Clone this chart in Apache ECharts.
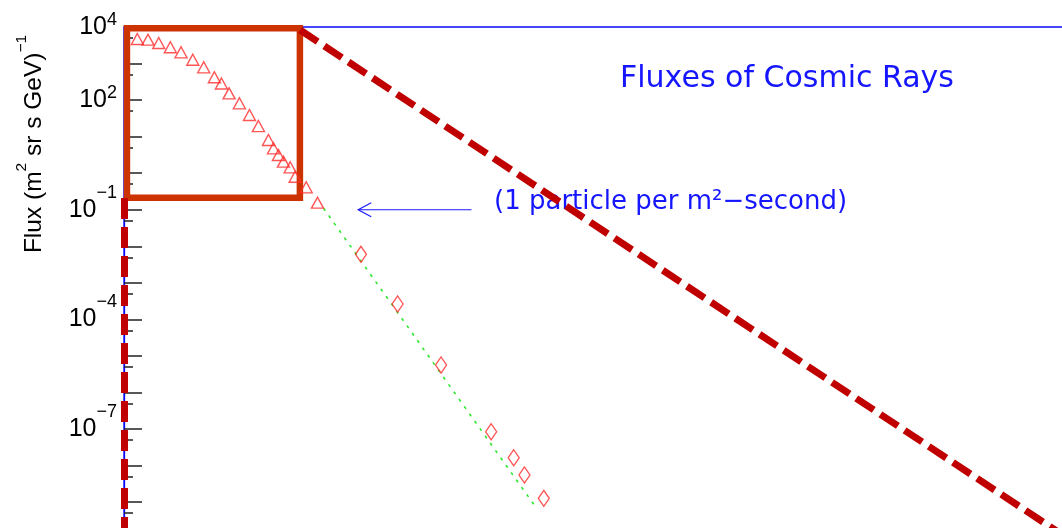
<!DOCTYPE html>
<html>
<head>
<meta charset="utf-8">
<title>Fluxes of Cosmic Rays</title>
<script src="https://cdn.jsdelivr.net/npm/echarts@6/dist/echarts.min.js"></script>
<style>
  html, body { margin: 0; padding: 0; background: #fff; }
  #chart { width: 1062px; height: 528px; }
</style>
</head>
<body>
<div id="chart"></div>
<script>
// energy in eV, flux in (m^2 sr s GeV)^-1
var protonEnergy = [2.19e9, 4.11e9, 7.73e9, 1.53e10, 2.87e10, 5.73e10, 1.09e11, 2.04e11, 3.09e11, 4.86e11,
  8.91e11, 1.61e12, 2.73e12, 4.92e12, 6.61e12, 8.87e12, 1.19e13, 1.77e13, 2.37e13, 4.54e13, 8.83e13];
var protonFlux = [4700, 4500, 3650, 2790, 2030, 1270, 789, 421, 284, 153,
  81.7, 39.1, 19.5, 8.09, 4.80, 3.15, 2.07, 1.45, 0.80, 0.411, 0.156];

var airShowerEnergy = [1.14e15, 9.84e15, 1.27e17, 2.42e18, 9.14e18, 1.72e19, 5.36e19];
var airShowerFlux = [6.04e-3, 2.64e-4, 5.65e-6, 8.45e-8, 1.64e-8, 5.53e-9, 1.27e-9];

// power law fit (green dotted)
var fitEnergy = [1.26e14, 3.28e19];
var fitFlux = [0.110, 7.5e-10];

// y tick labels (powers of ten)
var labelExps = [4, 2, -1, -4, -7];

// "1 particle per m2-second" arrow
var arrowFlux = 0.1;
var arrowEnergy = [7.6e17, 9.7e14];

// zoom box drawn over the plot and its guide lines
var boxEnergy = [1.19e9, 3.13e13];
var boxFlux = [9.2e3, 0.214];
var guideEnergy = [1e9, 3.18e13, 1e33];
var guideFlux = [0.21, 1e-10, 8.28e3, 1.24e-10];

function lg(v) { return Math.log10(v); }
function pairs(xs, ys) {
  return xs.map(function (x, i) { return [lg(x), lg(ys[i])]; });
}

var minorTicks = [];
for (var n = 4; n >= -10; n--) minorTicks.push(n - Math.log10(2));

var chart = echarts.init(document.getElementById('chart'));

var option = {
  animation: false,
  backgroundColor: '#fff',
  grid: {
    left: 124, top: 27, right: -1, bottom: -10.7, outerBoundsMode: 'none',
    show: true, borderColor: '#0a0aff', borderWidth: 1.3, backgroundColor: 'rgba(0,0,0,0)'
  },
  xAxis: {
    type: 'value', min: 9, max: 33, position: 'top',
    axisLine: { show: false, onZero: false },
    axisTick: { show: false }, axisLabel: { show: false }, splitLine: { show: false }
  },
  yAxis: [{
    type: 'value', min: -10, max: 4, interval: 1,
    axisLine: { show: true, onZero: false, lineStyle: { color: '#0a0aff', width: 1.3 } },
    axisTick: { show: true, inside: true, length: 18, lineStyle: { color: '#222', width: 1.5 } },
    splitLine: { show: false },
    axisLabel: {
      margin: 7, showMaxLabel: true, showMinLabel: true,
      formatter: function (v) {
        if (labelExps.indexOf(v) < 0) return '';
        return v < 0 ? '{b|10}{n|\u2212' + (-v) + '}' : '{b|10}{p|' + v + '}';
      },
      rich: {
        b: { fontSize: 25, fontFamily: 'Liberation Sans', color: '#000', lineHeight: 52 },
        n: { fontSize: 18, fontFamily: 'Liberation Sans', color: '#000', lineHeight: 18, padding: [0, 0, 34, 0] },
        p: { fontSize: 18, fontFamily: 'Liberation Sans', color: '#000', lineHeight: 18, padding: [10, 0, 24, 0] }
      }
    }
  }, {
    type: 'value', min: -10, max: 4, position: 'left',
    axisLine: { show: false, onZero: false },
    axisTick: { show: true, inside: true, length: 9, customValues: minorTicks, lineStyle: { color: '#222', width: 1.5 } },
    axisLabel: { show: false }, splitLine: { show: false }
  }],
  series: [{
    name: 'fit', type: 'line', data: pairs(fitEnergy, fitFlux), showSymbol: false, silent: true,
    lineStyle: { color: '#2ee82e', width: 1.6, type: [3, 6] }, z: 2
  }, {
    name: 'direct', type: 'scatter', data: pairs(protonEnergy, protonFlux),
    symbol: 'triangle', symbolSize: [12, 11],
    itemStyle: { color: 'rgba(0,0,0,0)', borderColor: '#ff2a2a', borderWidth: 1.4 }, z: 3
  }, {
    name: 'air showers', type: 'scatter', data: pairs(airShowerEnergy, airShowerFlux),
    symbol: 'diamond', symbolSize: [11, 16],
    itemStyle: { color: 'rgba(0,0,0,0)', borderColor: '#ff2a2a', borderWidth: 1.4 }, z: 3
  }, {
    name: 'overlay', type: 'line', data: [], clip: false, silent: true, z: 5,
    markArea: {
      silent: true,
      itemStyle: { color: 'rgba(0,0,0,0)', borderColor: '#cc3300', borderWidth: 6.5 },
      label: { show: false },
      data: [[{ coord: [lg(boxEnergy[0]), lg(boxFlux[0])] }, { coord: [lg(boxEnergy[1]), lg(boxFlux[1])] }]]
    },
    markLine: {
      silent: true, symbol: 'none', label: { show: false },
      lineStyle: { color: '#c00000', width: 7, type: [21, 8], cap: 'butt' },
      data: [
        [{ coord: [lg(guideEnergy[0]), lg(guideFlux[0])] }, { coord: [lg(guideEnergy[0]), lg(guideFlux[1])] }],
        [{ coord: [lg(guideEnergy[1]), lg(guideFlux[2])] }, { coord: [lg(guideEnergy[2]), lg(guideFlux[3])] }]
      ]
    }
  }],
  graphic: [{
    id: 'title', type: 'text', x: 620, y: 79,
    style: { text: 'Fluxes of Cosmic Rays', fill: '#1515ff', font: '30px "DejaVu Sans"', align: 'left', verticalAlign: 'middle' }
  }, {
    id: 'note', type: 'text', x: 494, y: 202,
    style: { text: '(1 particle per m\u00b2\u2212second)', fill: '#1515ff', font: '26px "DejaVu Sans"', align: 'left', verticalAlign: 'middle' }
  }, {
    id: 'ytitle', type: 'text', x: 34, y: 144, rotation: Math.PI / 2,
    style: {
      text: '{a|Flux (m}{s|2}{a| sr s GeV)}{s|\u22121}',
      align: 'center', verticalAlign: 'middle',
      rich: {
        a: { fontSize: 24.5, fontFamily: 'Liberation Sans', fill: '#000', lineHeight: 40 },
        s: { fontSize: 15.5, fontFamily: 'Liberation Sans', fill: '#000', lineHeight: 15, padding: [0, 0, 25, 0] }
      }
    }
  }]
};

chart.setOption(option);

// arrow pointing at the 1 particle per m2-second level
var tail = chart.convertToPixel({ gridIndex: 0 }, [lg(arrowEnergy[0]), lg(arrowFlux)]);
var tip = chart.convertToPixel({ gridIndex: 0 }, [lg(arrowEnergy[1]), lg(arrowFlux)]);
chart.setOption({
  graphic: [{
    id: 'arrow-shaft', type: 'polyline', silent: true,
    shape: { points: [tail, tip] },
    style: { stroke: '#1a1aff', lineWidth: 1.2, fill: null }
  }, {
    id: 'arrow-head', type: 'polyline', silent: true,
    shape: { points: [[tip[0] + 13, tip[1] - 7], tip, [tip[0] + 13, tip[1] + 7]] },
    style: { stroke: '#1a1aff', lineWidth: 1.2, fill: null }
  }]
});
</script>
</body>
</html>
